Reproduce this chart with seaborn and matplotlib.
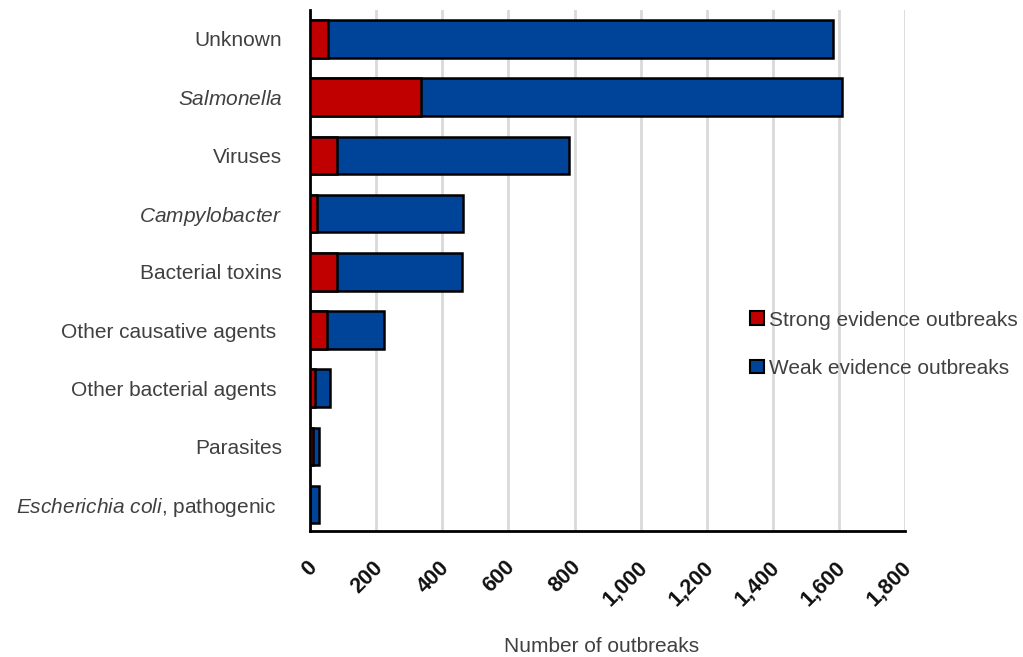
import matplotlib
matplotlib.use("Agg")
import matplotlib.pyplot as plt
import matplotlib.ticker as mticker
import matplotlib.transforms as mtrans
from matplotlib.patches import Patch
import seaborn as sns
import pandas as pd

agents = ["Unknown", "$\\it{Salmonella}$", "Viruses", "$\\it{Campylobacter}$",
          "Bacterial toxins", "Other causative agents ", "Other bacterial agents ",
          "Parasites", "$\\it{Escherichia\\ coli}$, pathogenic  "]
strong = [55, 335, 82, 20, 83, 53, 14, 8, 1]
weak = [1526, 1273, 702, 444, 376, 171, 46, 20, 27]

df = pd.DataFrame({"agent": agents, "strong": strong, "weak": weak})
df["total"] = df["strong"] + df["weak"]

sns.set_style("white")
plt.rcParams["font.family"] = ["Liberation Sans", "DejaVu Sans"]
plt.rcParams["mathtext.fontset"] = "custom"
plt.rcParams["mathtext.rm"] = "Liberation Sans"
plt.rcParams["mathtext.it"] = "Liberation Sans:italic"

red = "#C00000"
blue = "#00449A"
grey = "#404040"
fs = 15

fig = plt.figure(figsize=(10.23, 6.57), dpi=100)
ax = fig.add_axes([0.303, 0.192, 0.582, 0.793])

ax.grid(axis="x", color="#d9d9d9", linewidth=2, zorder=0)
ax.set_axisbelow(True)

sns.barplot(data=df, y="agent", x="total", color=blue, saturation=1,
            width=0.645, edgecolor="black", linewidth=1.8, ax=ax, zorder=2)
sns.barplot(data=df, y="agent", x="strong", color=red, saturation=1,
            width=0.645, edgecolor="black", linewidth=1.8, ax=ax, zorder=3)

ax.set_xlim(0, 1800)
ax.set_ylim(8.45, -0.5)
ax.xaxis.set_major_locator(mticker.MultipleLocator(200))
ax.xaxis.set_major_formatter(mticker.FuncFormatter(lambda v, p: f"{int(v):,}"))

for s in ["top", "right"]:
    ax.spines[s].set_visible(False)
for s in ["left", "bottom"]:
    ax.spines[s].set_color("black")
    ax.spines[s].set_linewidth(2)

ax.tick_params(axis="y", length=0, pad=20, labelsize=fs, labelcolor=grey)
ax.tick_params(axis="x", length=0, pad=24, labelsize=15.5, labelcolor="#111111")
shift = mtrans.ScaledTranslation(2.5 / 72, 0, fig.dpi_scale_trans)
for lab in ax.get_xticklabels():
    lab.set_rotation(45)
    lab.set_ha("right")
    lab.set_va("center")
    lab.set_rotation_mode("anchor")
    lab.set_fontweight("bold")
    lab.set_transform(lab.get_transform() + shift)

ax.set_ylabel("")
ax.set_xlabel("Number of outbreaks", fontsize=fs, color=grey)
ax.xaxis.set_label_coords(0.489, -0.203)

handles = [Patch(facecolor=red, edgecolor="black", linewidth=1.5, label="Strong evidence outbreaks"),
           Patch(facecolor=blue, edgecolor="black", linewidth=1.5, label="Weak evidence outbreaks")]
leg = fig.legend(handles=handles, loc="center left", bbox_to_anchor=(0.715, 0.476),
                 frameon=False, fontsize=fs, handlelength=0.65, handleheight=0.65,
                 handletextpad=0.25, labelspacing=1.4)
for t in leg.get_texts():
    t.set_color(grey)

fig.savefig("out.png", dpi=100)
